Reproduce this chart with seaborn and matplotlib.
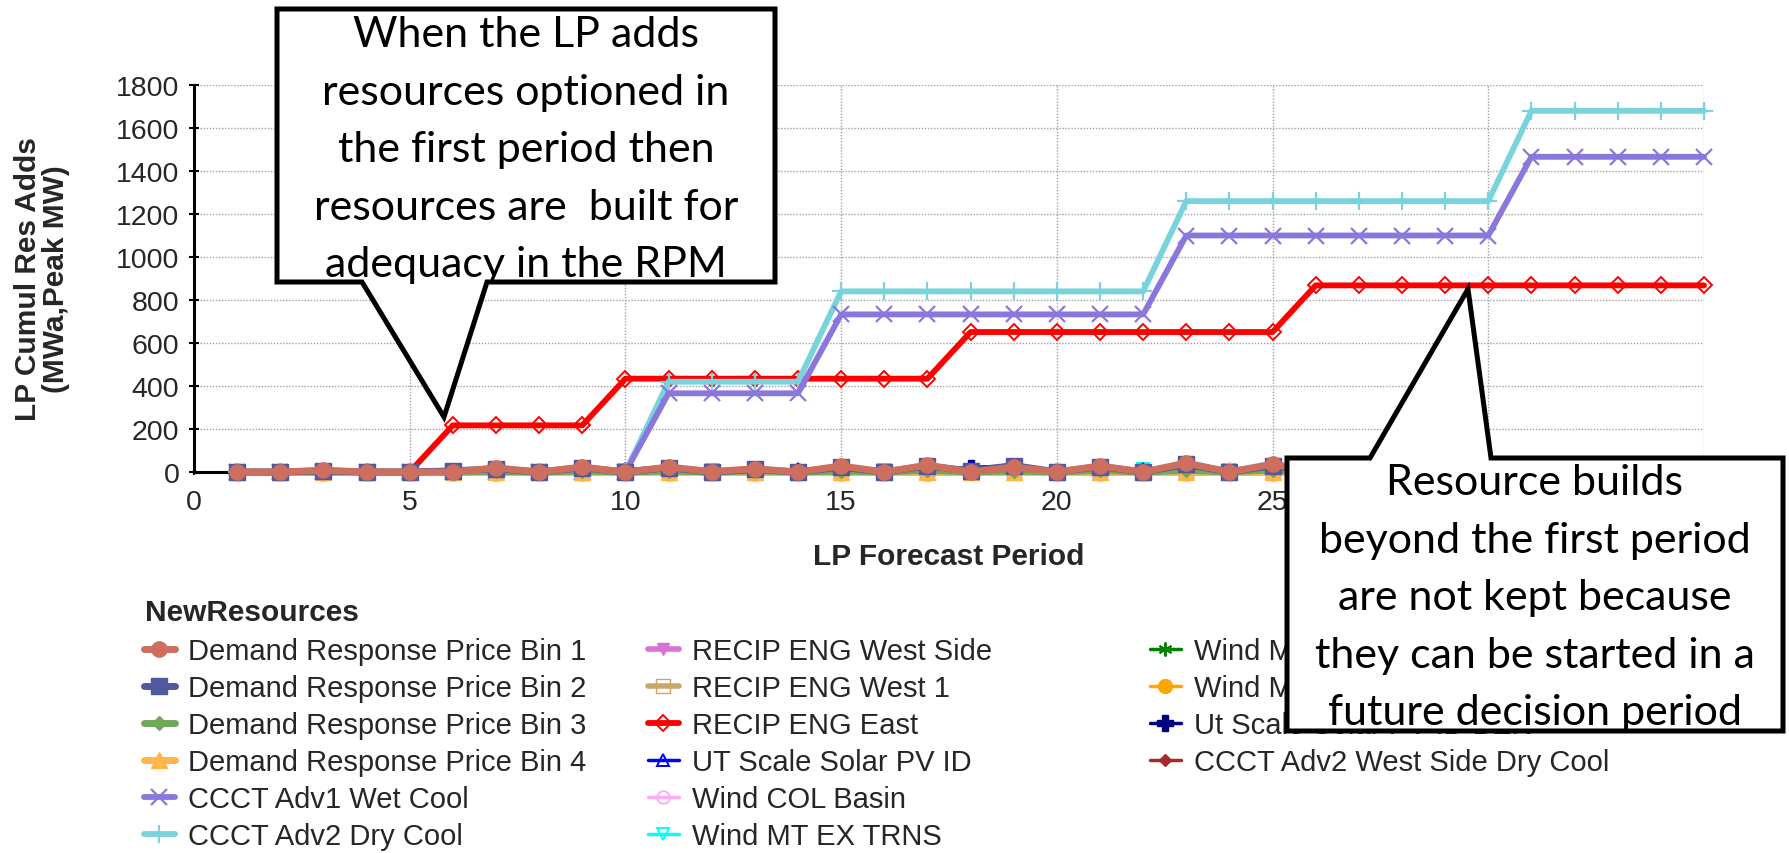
import matplotlib
matplotlib.use("Agg")
import matplotlib.pyplot as plt
import seaborn as sns
import pandas as pd
from matplotlib.patches import Polygon

# ---------------- data ----------------
periods = list(range(1, 36))

dr_bin1 = [0, 0, 8, 0, 0, 0, 19, 0, 23, 0, 23, 2, 15, 0, 28, 0, 32, 0, 23, 0,
           28, 0, 42, 0, 37, 0, 30, 0, 25, 0, 35, 0, 20, 0, 30]
dr_bin2 = [0, 0, 5, 0, 0, 5, 15, 0, 20, 0, 20, 0, 12, 0, 22, 0, 28, 5, 30, 0,
           25, 0, 35, 0, 30, 0, 25, 0, 20, 0, 30, 0, 15, 0, 25]
dr_bin3 = [0, 0, 0, 0, 0, 0, 3, 0, 5, 0, 5, 0, 5, 0, 5, 0, 8, 0, 5, 0,
           8, 0, 8, 0, 10, 0, 5, 0, 5, 0, 8, 0, 5, 0, 5]
dr_bin4 = [0] * 35
ccct_adv1_wet = [0] * 10 + [366] * 4 + [733] * 8 + [1100] * 8 + [1466] * 5
ccct_adv2_dry = [0] * 10 + [420] * 4 + [840] * 8 + [1260] * 8 + [1680] * 5
recip_west_side = [0] * 35
recip_west_1 = [0] * 35
recip_east = [0] * 5 + [217] * 4 + [434] * 8 + [651] * 8 + [868] * 10
ut_solar_id = [0, 0, 0, 0, 0, 8, 0, 0, 0, 12, 22, 0, 0, 12, 0, 0, 0, 22, 28, 0,
               0, 12, 0, 0, 0, 0, 10, 0, 0, 0, 0, 0, 0, 0, 0]
wind_col_basin = [0, 0, 0, 0, 0, 0, 0, 0, 0, 0, 0, 0, 0, 0, 0, 0, 0, 0, 0, 0,
                  0, 10, 0, 12, 0, 0, 0, 0, 0, 0, 0, 0, 0, 0, 0]
wind_mt_ex_trns = [0, 0, 0, 0, 0, 0, 0, 0, 0, 10, 0, 8, 0, 0, 0, 8, 0, 0, 0, 0,
                   0, 12, 0, 10, 0, 0, 0, 0, 0, 0, 0, 0, 0, 0, 0]
wind_mt = [0] * 35
wind_mt_id = [0] * 35
ut_solar_id_ben = [0, 0, 0, 0, 0, 0, 0, 0, 0, 0, 0, 0, 0, 0, 0, 0, 0, 18, 24, 0,
                   0, 0, 0, 0, 0, 0, 0, 0, 0, 0, 0, 0, 0, 0, 0]
ccct_adv2_ws_dry = [0] * 35

series_names = [
    "Demand Response Price Bin 1", "Demand Response Price Bin 2",
    "Demand Response Price Bin 3", "Demand Response Price Bin 4",
    "CCCT Adv1 Wet Cool", "CCCT Adv2 Dry Cool",
    "RECIP ENG West Side", "RECIP ENG West 1", "RECIP ENG East",
    "UT Scale Solar PV ID", "Wind COL Basin", "Wind MT EX TRNS",
    "Wind MT", "Wind MT ID", "Ut Scale Solar PV ID BEN",
    "CCCT Adv2 West Side Dry Cool",
]
series_values = [
    dr_bin1, dr_bin2, dr_bin3, dr_bin4, ccct_adv1_wet, ccct_adv2_dry,
    recip_west_side, recip_west_1, recip_east, ut_solar_id, wind_col_basin,
    wind_mt_ex_trns, wind_mt, wind_mt_id, ut_solar_id_ben, ccct_adv2_ws_dry,
]

x_label = "LP Forecast Period"
y_label = "LP Cumul Res Adds\n(MWa,Peak MW)"
legend_title = "NewResources"
callout_left = ["When the LP adds", "resources optioned in",
                "the first period then", "resources are  built for",
                "adequacy in the RPM"]
callout_right = ["Resource builds", "beyond the first period",
                 "are not kept because", "they can be started in a",
                 "future decision period"]

# ---------------- styles ----------------
styles = {
    "Demand Response Price Bin 1": dict(color="#CD6E5F", marker="o", ms=11, mfc="#CD6E5F", lw=5),
    "Demand Response Price Bin 2": dict(color="#51599E", marker="s", ms=11, mfc="#51599E", lw=5),
    "Demand Response Price Bin 3": dict(color="#71A95B", marker="D", ms=7, mfc="#71A95B", lw=5),
    "Demand Response Price Bin 4": dict(color="#FFB548", marker="^", ms=11, mfc="#FFB548", lw=5),
    "CCCT Adv1 Wet Cool": dict(color="#8B77DB", marker="x", ms=12, mfc="#8B77DB", lw=4.2, mew=1.6),
    "CCCT Adv2 Dry Cool": dict(color="#78D3DC", marker="+", ms=13, mfc="#78D3DC", lw=4.2, mew=1.6),
    "RECIP ENG West Side": dict(color="#DA70D6", marker="v", ms=9, mfc="#DA70D6", lw=4),
    "RECIP ENG West 1": dict(color="#C9A865", marker="s", ms=10, mfc="none", lw=4),
    "RECIP ENG East": dict(color="#FF0000", marker="D", ms=8, mfc="none", lw=4.2, mew=1.4),
    "UT Scale Solar PV ID": dict(color="#0000FF", marker="^", ms=9, mfc="none", lw=2.5, mew=1.4),
    "Wind COL Basin": dict(color="#FFAAF5", marker="o", ms=9, mfc="none", lw=2.5, mew=1.4),
    "Wind MT EX TRNS": dict(color="#00FFFF", marker="v", ms=9, mfc="none", lw=2.5, mew=1.4),
    "Wind MT": dict(color="#008000", marker=(6, 2, 0), ms=10, mfc="#008000", lw=2.5, mew=1.4),
    "Wind MT ID": dict(color="#FFA500", marker="o", ms=10, mfc="#FFA500", lw=2.5),
    "Ut Scale Solar PV ID BEN": dict(color="#000080", marker="P", ms=11, mfc="#000080", lw=2.5),
    "CCCT Adv2 West Side Dry Cool": dict(color="#A52A2A", marker="D", ms=6.5, mfc="#A52A2A", lw=2.5),
}

sns.set_theme(style="white")
plt.rcParams["font.family"] = ["Liberation Sans", "DejaVu Sans"]

W, H = 1789, 854
fig = plt.figure(figsize=(W / 100, H / 100), dpi=100)
ax = fig.add_axes([194 / W, 1 - 473 / H, 1510 / W, 387 / H])

df = pd.DataFrame({"Period": periods})
for name, vals in zip(series_names, series_values):
    df[name] = vals

handles = {}
n = len(series_names)
for i, name in enumerate(series_names):
    st = styles[name]
    sns.lineplot(data=df, x="Period", y=name, ax=ax, color=st["color"],
                 marker=st["marker"], markersize=st["ms"],
                 markerfacecolor=st["mfc"], markeredgecolor=st["color"],
                 markeredgewidth=st.get("mew", 1.0), linewidth=st["lw"],
                 zorder=10 + (n - i), clip_on=False, legend=False)
    line = ax.lines[-1]
    line.set_label(name)
    handles[name] = line

ax.set_xlim(0, 35)
ax.set_ylim(0, 1800)
ax.set_xticks(range(0, 36, 5))
ax.set_yticks(range(0, 1801, 200))
ax.grid(True, color="#a0a0a0", linestyle=(0, (1, 1.2)), linewidth=1.0)
for s in ("top", "right"):
    ax.spines[s].set_visible(False)
for s in ("left", "bottom"):
    ax.spines[s].set_color("black")
    ax.spines[s].set_linewidth(2.2)
    ax.spines[s].set_zorder(5)
ax.tick_params(axis="y", direction="inout", length=7, width=1.5, color="black",
               labelsize=20.5, pad=7, left=True)
ax.tick_params(axis="x", direction="inout", length=5, width=1.5, color="black",
               labelsize=20.5, pad=10, bottom=True)

ax.set_xlabel(x_label, fontsize=21.5, fontweight="bold")
ax.xaxis.set_label_coords(0.5, (473 - 557) / 387)
ax.xaxis.label.set_verticalalignment("center")
ax.set_ylabel(y_label, fontsize=21.5, fontweight="bold", linespacing=1.0)
ax.yaxis.set_label_coords((42 - 194) / 1510, 0.5)
ax.yaxis.label.set_verticalalignment("center")

# ---------------- legend ----------------
fig.text(145 / W, 1 - 613 / H, legend_title, fontsize=21.5, fontweight="bold",
         ha="left", va="center")
cols = [series_names[0:6], series_names[6:12], series_names[12:16]]
col_x = [144, 648, 1150]
for names_col, cx in zip(cols, col_x):
    leg = fig.legend([handles[nm] for nm in names_col], names_col,
                     loc="upper left", bbox_to_anchor=(cx / W, 1 - 638 / H),
                     frameon=False, fontsize=21, handlelength=1.05,
                     handletextpad=0.45, labelspacing=0.31, borderpad=0,
                     borderaxespad=0, numpoints=1)
    leg.set_zorder(1)

# ---------------- callouts ----------------
ov = fig.add_axes([0, 0, 1, 1], zorder=20)
ov.set_xlim(0, W)
ov.set_ylim(H, 0)
ov.axis("off")
ov.patch.set_alpha(0)

poly1 = [(277, 10), (775, 10), (775, 283), (487, 283), (444, 418),
         (362, 283), (277, 283)]
poly2 = [(1287, 459), (1370, 459), (1468, 290), (1491, 459), (1783, 459),
         (1783, 732), (1287, 732)]
for pts in (poly1, poly2):
    ov.add_patch(Polygon(pts, closed=True, facecolor="white", edgecolor="black",
                         linewidth=3.6, joinstyle="miter"))

cfont = ["Lato", "DejaVu Sans"]
for txt, yb in zip(callout_left, [47, 104.5, 162, 219.5, 277]):
    ov.text(526, yb, txt, ha="center", va="baseline", fontsize=31,
            family=cfont, color="black")
for txt, yb in zip(callout_right, [495, 553, 610, 668, 725]):
    ov.text(1535, yb, txt, ha="center", va="baseline", fontsize=31,
            family=cfont, color="black")

fig.savefig("out.png", dpi=100)
